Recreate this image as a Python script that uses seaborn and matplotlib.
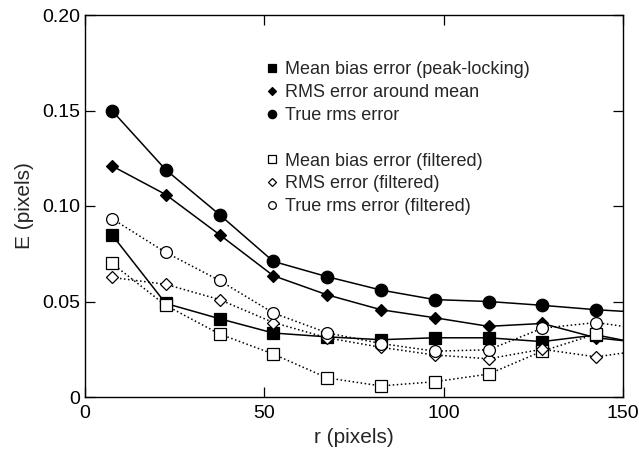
import matplotlib
matplotlib.use("Agg")
import matplotlib.pyplot as plt
from matplotlib.lines import Line2D
import seaborn as sns

# ---- data ----
r = [7.5, 22.5, 37.5, 52.5, 67.5, 82.5, 97.5, 112.5, 127.5, 142.5, 157.5]
mean_bias = [0.085, 0.049, 0.041, 0.0335, 0.0315, 0.030, 0.031, 0.031, 0.029, 0.0325, 0.027]
rms_mean = [0.121, 0.106, 0.085, 0.0635, 0.0535, 0.0457, 0.0415, 0.037, 0.0385, 0.031, 0.028]
true_rms = [0.150, 0.119, 0.0955, 0.071, 0.063, 0.056, 0.051, 0.050, 0.048, 0.0457, 0.044]
r_f = [7.5, 22.5, 37.5, 52.5, 67.5, 82.5, 97.5, 112.5, 127.5, 142.5]
mean_bias_f = [0.070, 0.048, 0.033, 0.0225, 0.010, 0.0058, 0.008, 0.012, 0.024, 0.033]
r_f2 = [7.5, 22.5, 37.5, 52.5, 67.5, 82.5, 97.5, 112.5, 127.5, 142.5, 157.5]
rms_f = [0.0626, 0.059, 0.051, 0.039, 0.031, 0.026, 0.022, 0.020, 0.025, 0.021, 0.025]
true_rms_f = [0.0934, 0.0757, 0.061, 0.044, 0.0336, 0.028, 0.024, 0.0247, 0.036, 0.039, 0.035]

labels = ["Mean bias error (peak-locking)", "RMS error around mean", "True rms error",
          "Mean bias error (filtered)", "RMS error (filtered)", "True rms error (filtered)"]
x_ticks = [0, 50, 100, 150]
y_ticks = [0, 0.05, 0.10, 0.15, 0.20]
y_ticklabels = ["0", "0.05", "0.10", "0.15", "0.20"]

sns.set_style("ticks")
plt.rcParams["font.family"] = ["Liberation Sans", "DejaVu Sans"]

fig = plt.figure(figsize=(6.39, 4.5), dpi=100)
ax = fig.add_axes([85 / 639, 1 - 397 / 450, 538 / 639, 382 / 450])

series = [
    (r, mean_bias, "s", "black", "-", 8.5),
    (r, rms_mean, "D", "black", "-", 6),
    (r, true_rms, "o", "black", "-", 9),
    (r_f, mean_bias_f, "s", "white", ":", 8),
    (r_f2, rms_f, "D", "white", ":", 6.5),
    (r_f2, true_rms_f, "o", "white", ":", 8.5),
]
for xs, ys, m, fc, ls, ms in series:
    sns.lineplot(x=xs, y=ys, ax=ax, color="black", linestyle=ls, linewidth=1.1,
                 marker=m, markersize=ms, markerfacecolor=fc, markeredgecolor="black",
                 markeredgewidth=0.9, sort=False, estimator=None)

ax.set_xlim(0, 150)
ax.set_ylim(0, 0.20)
ax.set_xticks(x_ticks)
ax.set_xticklabels([str(v) for v in x_ticks])
ax.set_yticks(y_ticks)
ax.set_yticklabels(y_ticklabels)
ax.tick_params(direction="in", length=7, width=0.9, labelsize=14, top=True, right=True,
               colors="black")
ax.tick_params(axis="x", pad=6)
for s in ax.spines.values():
    s.set_visible(True)
    s.set_linewidth(1.0)
    s.set_color("black")
ax.set_xlabel("r (pixels)", fontsize=15, labelpad=4)
ax.set_ylabel("E (pixels)", fontsize=15, labelpad=6)


def mk(m, fc, ms):
    return Line2D([], [], linestyle="none", marker=m, markersize=ms,
                  markerfacecolor=fc, markeredgecolor="black", markeredgewidth=0.9)


h1 = [mk("s", "black", 5.5), mk("D", "black", 4), mk("o", "black", 6)]
h2 = [mk("s", "white", 5.5), mk("D", "white", 4.2), mk("o", "white", 5.5)]
common = dict(loc="upper left", frameon=False, fontsize=13.0, handlelength=0.6,
              handletextpad=0.43, labelspacing=0.32, borderaxespad=0, borderpad=0)
leg1 = ax.legend(h1, labels[:3], bbox_to_anchor=(0.337, 0.8785), **common)
ax.add_artist(leg1)
ax.legend(h2, labels[3:], bbox_to_anchor=(0.337, 0.640), **common)

fig.savefig("out.png", dpi=100)
